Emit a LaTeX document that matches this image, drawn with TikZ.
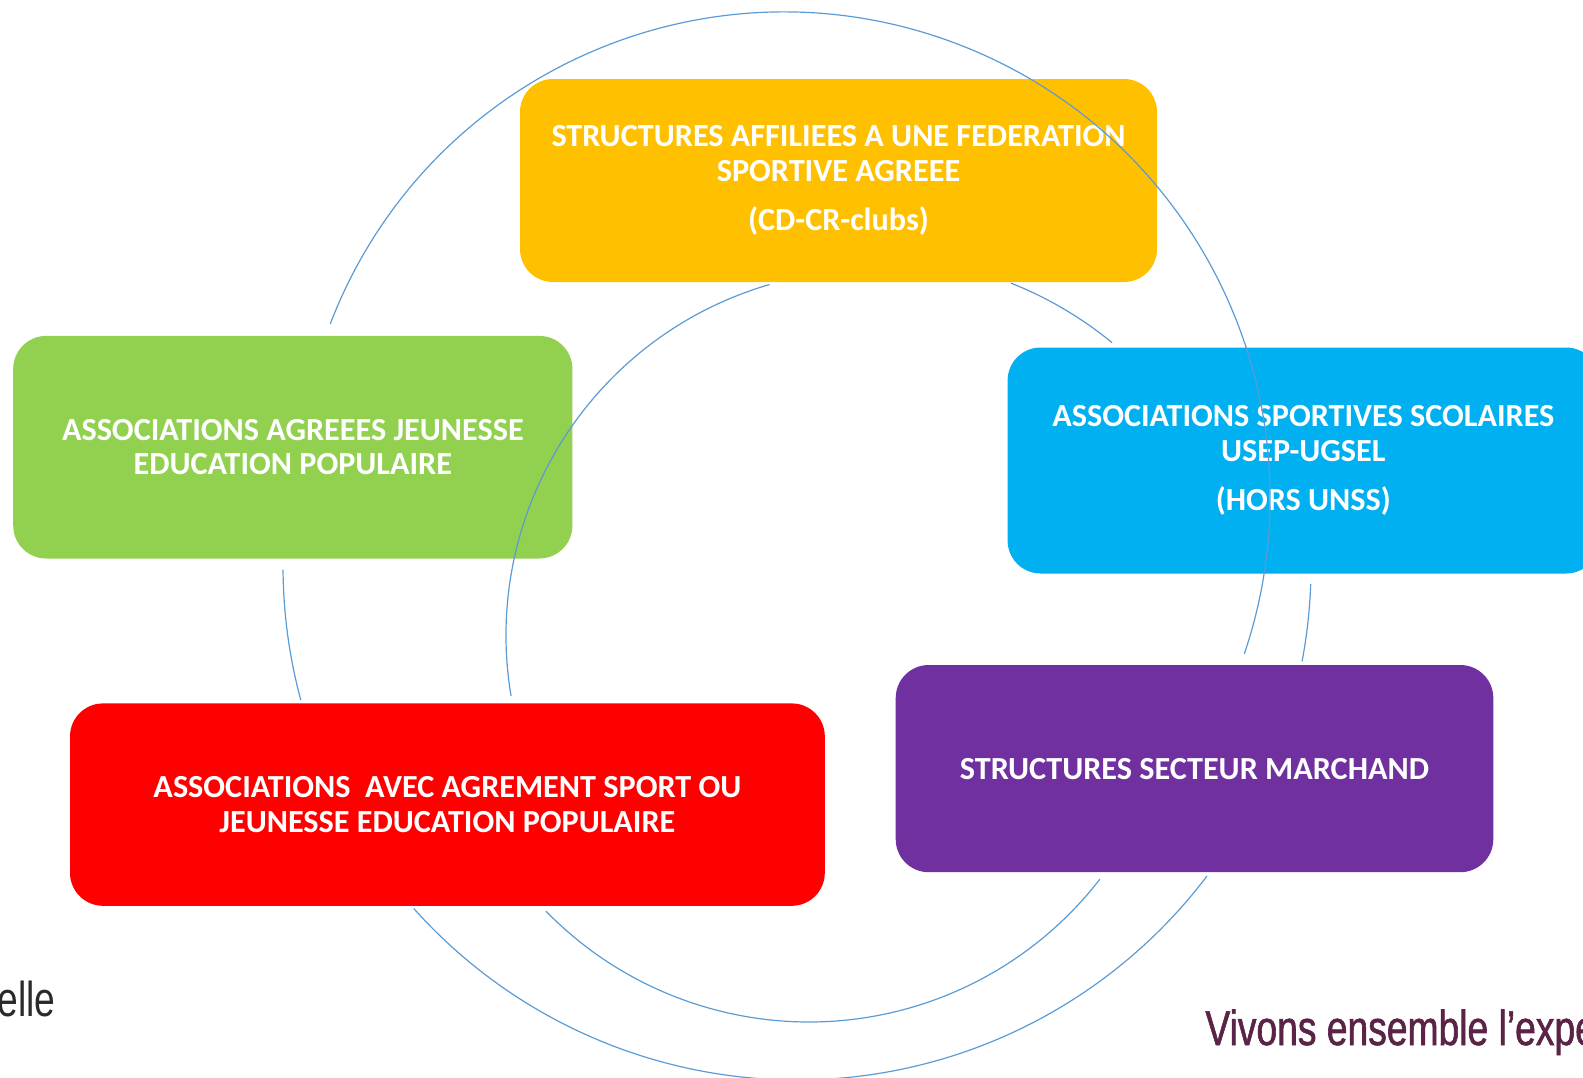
\documentclass[tikz,border=0pt]{standalone}
\usepackage{fontspec}
\setmainfont{Carlito}
\newfontfamily\narrowfont[FakeStretch=0.76]{Liberation Sans}
\newfontfamily\narrowboldfont[FakeStretch=0.76,FakeBold=1.2]{Liberation Sans}
\definecolor{yellowc}{HTML}{FFC000}
\definecolor{greenc}{HTML}{92D050}
\definecolor{bluec}{HTML}{00B0F0}
\definecolor{redc}{HTML}{FF0000}
\definecolor{purplec}{HTML}{7030A0}
\definecolor{arcblue}{HTML}{5B9BD5}
\definecolor{footgray}{HTML}{2A2A2A}
\definecolor{plum}{HTML}{5B2447}
\begin{document}
\begin{tikzpicture}[x=0.5pt,y=-0.5pt,
  box/.style={rounded corners=16.5pt, inner sep=0pt, text=white,
    font=\bfseries\fontsize{16.1}{17.2}\selectfont, align=center},
  cyc/.style={draw=arcblue, line width=0.6pt},
  foot/.style={anchor=base west, inner sep=0pt}]
\useasboundingbox (0,0) rectangle (1583,1077);

% boxes
\node[box, fill=yellowc, minimum width=318.5pt, minimum height=101.5pt] (fed) at (838.5,180.5)
  {STRUCTURES AFFILIEES A UNE FEDERATION\\SPORTIVE AGREEE\\[7.3pt](CD-CR-clubs)};
\node[box, fill=greenc, minimum width=279.6pt, minimum height=111.3pt] (jep) at (292.8,447.2)
  {ASSOCIATIONS AGREEES JEUNESSE\\EDUCATION POPULAIRE};
\node[box, fill=bluec, minimum width=295.7pt, minimum height=113pt] (scol) at (1303.3,460.5)
  {ASSOCIATIONS SPORTIVES SCOLAIRES\\USEP-UGSEL\\[7.3pt](HORS UNSS)};
\node[box, fill=redc, minimum width=377.4pt, minimum height=101.2pt] (agr) at (447.4,804.6)
  {ASSOCIATIONS~ AVEC AGREMENT SPORT OU\\JEUNESSE EDUCATION POPULAIRE};
\node[box, fill=purplec, minimum width=298.8pt, minimum height=103.6pt] (march) at (1194.5,768.6)
  {STRUCTURES SECTEUR MARCHAND};

% cycle arcs
\coordinate (cA) at (784,498);
\coordinate (cB) at (797,566);
\coordinate (cC) at (871.5,635.5);
\coordinate (cD) at (809,654.4);
\draw[cyc] (cA) ++(201:486) arc[start angle=201, end angle=378.7, radius=486];
\draw[cyc] (cB) ++(179.6:514) arc[start angle=179.6, end angle=164.9, radius=514];
\draw[cyc] (cB) ++(2:514) arc[start angle=2, end angle=10.7, radius=514];
\draw[cyc] (cB) ++(138.2:514) arc[start angle=138.2, end angle=37.1, radius=514];
\draw[cyc] (cC) ++(253.8:365.5) arc[start angle=253.8, end angle=170.5, radius=365.5];
\draw[cyc] (cC) ++(-68.4:379) arc[start angle=-68.4, end angle=-50.6, radius=379];
\draw[cyc] (cD) ++(135.7:367.6) arc[start angle=135.7, end angle=37.7, radius=367.6];

% footer texts
\node[foot, text=footgray, font=\narrowfont\fontsize{24.5}{24.5}\selectfont] (elle) at (-3,1016) {elle};
\node[foot, text=plum, font=\narrowboldfont\fontsize{24.5}{24.5}\selectfont] (vivons) at (1205,1045) {Vivons ensemble l’expe};
\end{tikzpicture}
\end{document}
